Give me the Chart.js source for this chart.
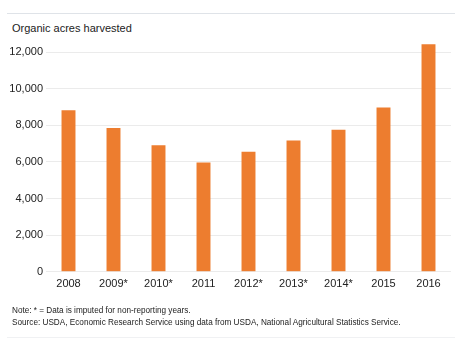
<!DOCTYPE html>
<html>
<head>
<meta charset="utf-8">
<script src="https://cdn.jsdelivr.net/npm/chart.js@4/dist/chart.umd.min.js"></script>
<style>
  body { margin: 0; background: #fff; font-family: "Liberation Sans", Arial, sans-serif; }
  .wrap { position: relative; width: 460px; height: 341px; overflow: hidden; }
  .rule-top { position: absolute; left: 7px; top: 13px; width: 448px; height: 1px; background: #dfe3e8; }
  .rule-bottom { position: absolute; left: 7px; top: 337px; width: 448px; height: 1px; background: #f0f1f3; }
  .title { position: absolute; left: 12px; top: 22px; font-size: 11px; color: #222; }
  .notes { position: absolute; left: 12px; top: 305px; font-size: 8.2px; line-height: 12px; color: #222; }
  canvas { position: absolute; left: 0; top: 0; }
</style>
</head>
<body>
<div class="wrap">
  <div class="rule-top"></div>
  <div class="title">Organic acres harvested</div>
  <canvas id="chart" width="460" height="341"></canvas>
  <div class="notes">
    Note: * = Data is imputed for non-reporting years.<br>
    Source: USDA, Economic Research Service using data from USDA, National Agricultural Statistics Service.
  </div>
  <div class="rule-bottom"></div>
</div>
<script>
// years (asterisk = imputed) and acres harvested
const years = ['2008', '2009*', '2010*', '2011', '2012*', '2013*', '2014*', '2015', '2016'];
const acres = [8830, 7855, 6910, 5970, 6560, 7170, 7760, 8970, 12430];
const yTicks = [0, 2000, 4000, 6000, 8000, 10000, 12000];

let canvas = document.getElementById('chart');

let acresChart = new Chart(canvas, {
    type: 'bar',
    data: {
        labels: years,
        datasets: [{
            data: acres,
            backgroundColor: '#ED7D2F',
            borderWidth: 0,
            barPercentage: 0.62,
            categoryPercentage: 0.5
        }]
    },
    options: {
        responsive: false,
        animation: false,
        layout: { padding: { left: 10, right: 9, top: 43, bottom: 44 } },
        plugins: {
            legend: { display: false },
            tooltip: { enabled: false }
        },
        scales: {
            x: {
                grid: { display: false, drawTicks: false },
                border: { display: false },
                ticks: {
                    color: '#222',
                    padding: 6,
                    font: { family: '"Liberation Sans", Arial, sans-serif', size: 11 }
                }
            },
            y: {
                min: 0,
                max: 12500,
                afterBuildTicks: (scale) => {
                    scale.ticks = yTicks.map(v => ({ value: v }));
                },
                afterFit: (scale) => { scale.width = 36; },
                grid: { color: '#ebebeb', drawTicks: false },
                border: { display: false },
                ticks: {
                    color: '#222',
                    padding: 3,
                    font: { family: '"Liberation Sans", Arial, sans-serif', size: 11 },
                    callback: (v) => v.toLocaleString('en-US')
                }
            }
        }
    }
});
</script>
</body>
</html>
